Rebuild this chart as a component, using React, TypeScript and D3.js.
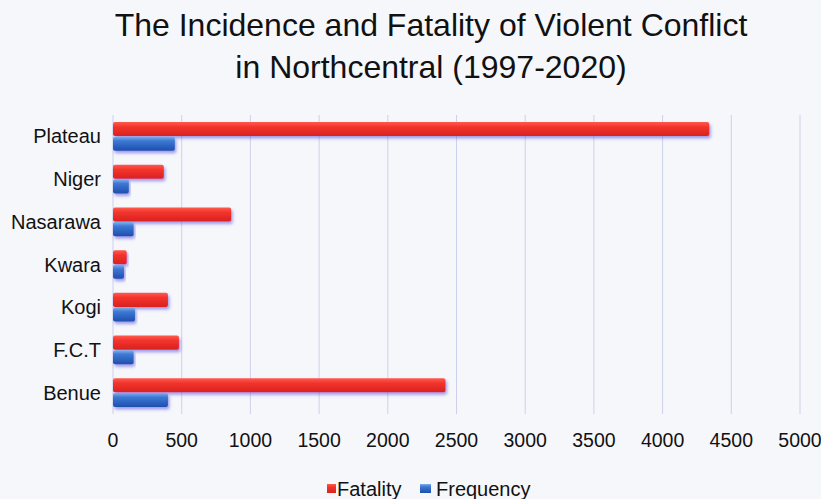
import { useEffect } from 'react';
import * as d3 from 'd3';

// Data
const states = ['Plateau', 'Niger', 'Nasarawa', 'Kwara', 'Kogi', 'F.C.T', 'Benue'];
const fatality = [4340, 370, 860, 100, 400, 480, 2420];
const frequency = [450, 115, 150, 80, 160, 150, 400];
const xTicks = [0, 500, 1000, 1500, 2000, 2500, 3000, 3500, 4000, 4500, 5000];
const seriesNames = ['Fatality', 'Frequency'];

const W = 821;
const H = 499;
const margin = { top: 115, right: 21, bottom: 85, left: 113 };
const FONT = '"Liberation Sans", Arial, sans-serif';

export default function App() {
  useEffect(() => {
    document.body.style.margin = '0';
  }, []);

  const x = d3
    .scaleLinear()
    .domain([0, 5000])
    .range([margin.left, W - margin.right]);

  const y = d3
    .scaleBand<string>()
    .domain(states)
    .range([margin.top, H - margin.bottom])
    .paddingInner(0.3)
    .paddingOuter(0.15);

  const inner = d3
    .scaleBand<string>()
    .domain(seriesNames)
    .range([0, y.bandwidth()])
    .padding(0.04);

  const rows = states.map((s, i) => ({ state: s, values: [fatality[i], frequency[i]] }));

  return (
    <svg width={W} height={H} style={{ display: 'block', fontFamily: FONT }}>
      <defs>
        <linearGradient id="redGrad" x1="0" y1="0" x2="0" y2="1">
          <stop offset="0%" stopColor="#ff5a4e" />
          <stop offset="35%" stopColor="#f2342c" />
          <stop offset="100%" stopColor="#d9221f" />
        </linearGradient>
        <linearGradient id="blueGrad" x1="0" y1="0" x2="0" y2="1">
          <stop offset="0%" stopColor="#7fb0ec" />
          <stop offset="30%" stopColor="#3d78d4" />
          <stop offset="100%" stopColor="#1d4fae" />
        </linearGradient>
        <filter id="shadow" x="-5%" y="-30%" width="115%" height="180%">
          <feDropShadow dx="1.5" dy="2.5" stdDeviation="1.5" floodColor="#5a4fd8" floodOpacity="0.55" />
        </filter>
      </defs>

      <rect width={W} height={H} fill="#f6f7fb" />

      {/* title */}
      <text x={431} y={36} textAnchor="middle" fontSize={32} fill="#111">
        The Incidence and Fatality of Violent Conflict
      </text>
      <text x={431} y={78} textAnchor="middle" fontSize={32} fill="#111">
        in Northcentral (1997-2020)
      </text>

      {/* grid */}
      {xTicks.map((t) => (
        <line
          key={t}
          x1={x(t)}
          x2={x(t)}
          y1={margin.top}
          y2={H - margin.bottom}
          stroke="#cdd0ec"
          strokeWidth={1}
        />
      ))}

      {/* bars */}
      {rows.map((r) => (
        <g key={r.state} transform={`translate(0,${y(r.state)})`}>
          {r.values.map((v, j) => (
            <rect
              key={j}
              x={x(0)}
              y={inner(seriesNames[j])}
              width={x(v) - x(0)}
              height={inner.bandwidth()}
              rx={2}
              fill={j === 0 ? 'url(#redGrad)' : 'url(#blueGrad)'}
              filter="url(#shadow)"
            />
          ))}
        </g>
      ))}

      {/* category labels */}
      {states.map((s) => (
        <text
          key={s}
          x={margin.left - 12}
          y={(y(s) ?? 0) + y.bandwidth() / 2}
          dy="0.35em"
          textAnchor="end"
          fontSize={20}
          fill="#111"
        >
          {s}
        </text>
      ))}

      {/* x tick labels */}
      {xTicks.map((t) => (
        <text key={t} x={x(t)} y={447} textAnchor="middle" fontSize={19.5} fill="#111">
          {t}
        </text>
      ))}

      {/* legend */}
      <g transform="translate(327,482)">
        <rect x={0} y={2} width={9} height={9} fill="url(#redGrad)" />
        <text x={10} y={14} fontSize={20} fill="#111">
          Fatality
        </text>
        <rect x={93} y={2} width={11} height={9} fill="url(#blueGrad)" />
        <text x={109} y={14} fontSize={20} fill="#111">
          Frequency
        </text>
      </g>
    </svg>
  );
}
